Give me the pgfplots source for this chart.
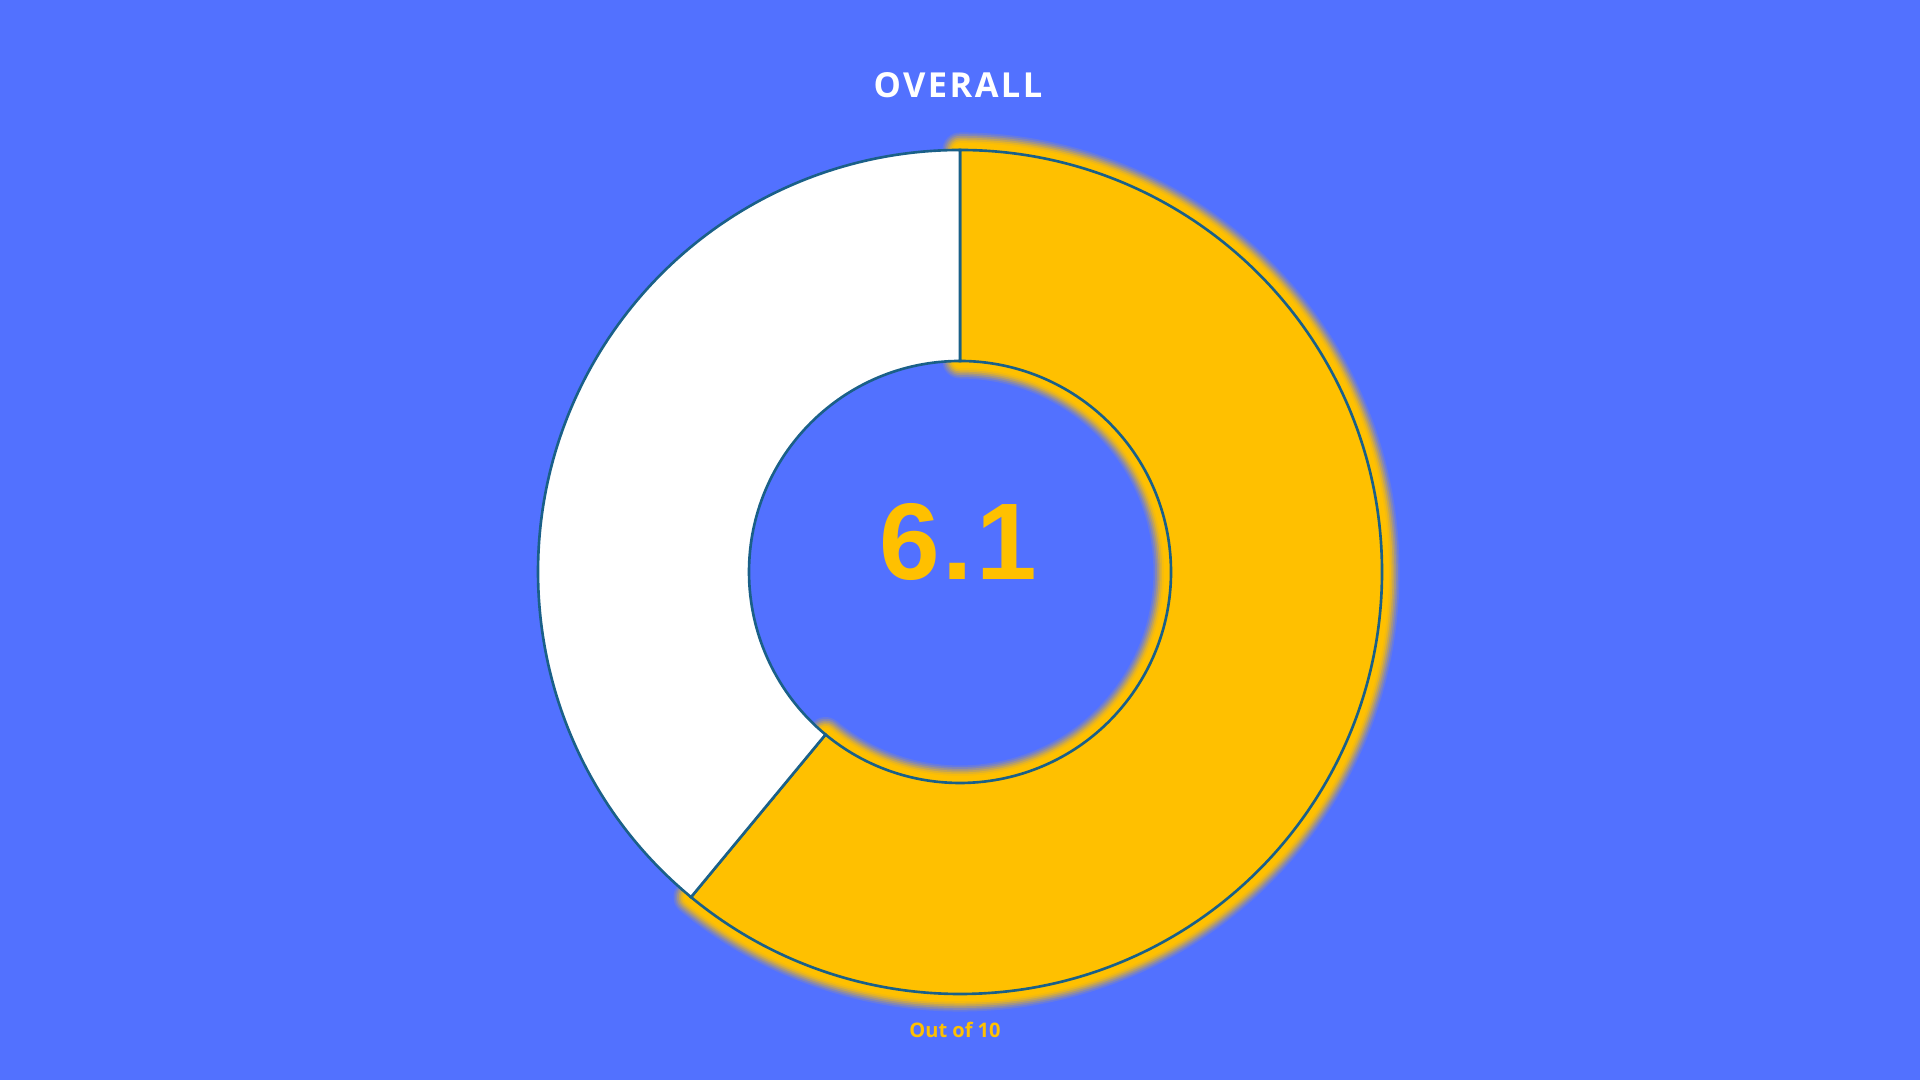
\documentclass[border=0pt]{standalone}
\usepackage{pgfplots}
\usepackage{pgfplotstable}
\pgfplotsset{compat=1.18}
\usepackage{fontspec}
\setmainfont{Open Sans}
\newfontfamily\arialfont{Liberation Sans}
\definecolor{bgblue}{HTML}{5271FF}
\definecolor{gold}{HTML}{FFC000}
\definecolor{edge}{HTML}{1A6088}

\pgfplotstableread{
label value
Score 6.1
Rest 3.9
}\donutdata

\begin{document}
\begin{tikzpicture}
\pgfplotstablegetelem{0}{value}\of\donutdata \let\vA\pgfplotsretval
\pgfplotstablegetelem{1}{value}\of\donutdata \let\vB\pgfplotsretval
\pgfmathsetmacro{\endA}{90-\vA/(\vA+\vB)*360}
\tikzset{yellowsector/.style={insert path={(axis cs:960,508) ++(90:4.22cm) arc[start angle=90,end angle=\endA,radius=4.22cm]
  -- ++(\endA:-2.11cm) arc[start angle=\endA,end angle=90,radius=2.11cm] -- cycle}},
  glow/.style={draw=gold,line join=round,line cap=round}}
\begin{axis}[width=19.2cm,height=10.8cm,scale only axis,
  xmin=0,xmax=1920,ymin=0,ymax=1080,
  axis lines=none,ticks=none,clip=false]
\fill[bgblue] (rel axis cs:0,0) rectangle (rel axis cs:1,1);
% glow
\draw[glow,line width=10pt,opacity=0.12] [yellowsector];
\draw[glow,line width=9pt,opacity=0.18] [yellowsector];
\draw[glow,line width=8pt,opacity=0.25] [yellowsector];
\draw[glow,line width=7pt,opacity=0.35] [yellowsector];
\draw[glow,line width=6pt,opacity=0.5] [yellowsector];
\draw[glow,line width=5pt,opacity=0.7] [yellowsector];
\draw[glow,line width=4pt,opacity=1] [yellowsector];
% yellow sector
\filldraw[fill=gold,draw=edge,line width=0.75pt] [yellowsector];
% white sector
\filldraw[fill=white,draw=edge,line width=0.75pt] (axis cs:960,508) ++(\endA:4.22cm) arc[start angle=\endA,end angle=-270,radius=4.22cm]
  -- ++(-270:-2.11cm) arc[start angle=-270,end angle=\endA,radius=2.11cm] -- cycle;
\node[anchor=base,text=white,font=\fontsize{9.8}{11}\selectfont\bfseries\addfontfeatures{LetterSpace=7}] at (axis cs:958,982) {OVERALL};
\node[anchor=base,text=gold,font=\arialfont\fontsize{31}{36}\selectfont\bfseries\addfontfeatures{LetterSpace=3}] at (axis cs:958,500) {6.1};
\node[anchor=base,text=gold,font=\fontsize{5.7}{7}\selectfont\bfseries] at (axis cs:955,42) {Out of 10};
\end{axis}
\end{tikzpicture}
\end{document}
